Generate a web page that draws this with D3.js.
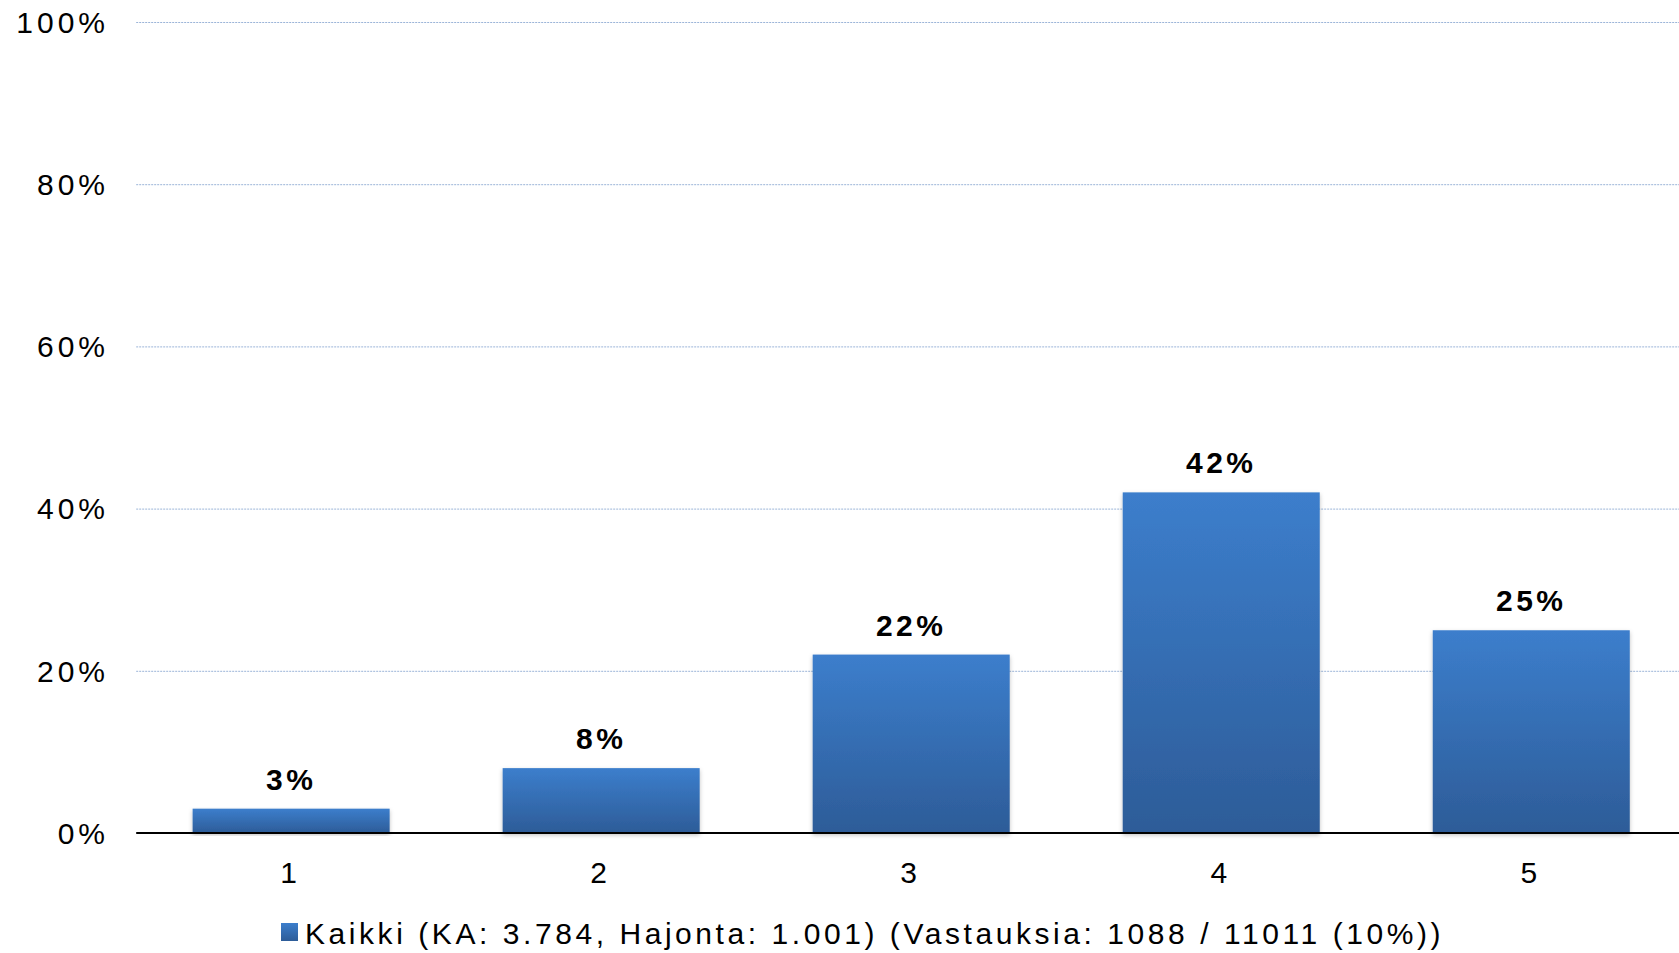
<!DOCTYPE html>
<html>
<head>
<meta charset="utf-8">
<script src="https://cdn.jsdelivr.net/npm/d3@7"></script>
<style>
  body { margin: 0; background: #fff; overflow: hidden; }
  text { font-family: "Liberation Sans", Arial, sans-serif; }
</style>
</head>
<body>
<script>
const categories = ['1', '2', '3', '4', '5']
const values = [3, 8, 22, 42, 25]
const yTicks = [0, 20, 40, 60, 80, 100]
const legendLabel = 'Kaikki (KA: 3.784, Hajonta: 1.001) (Vastauksia: 1088 / 11011 (10%))'

const width = 1679, height = 953
const plotLeft = 136.2, plotRight = 1686.2, plotTop = 22, plotBottom = 833

const svg = d3.select('body').append('svg')
  .attr('width', width)
  .attr('height', height)

// bar gradient + soft shadow
const defs = svg.append('defs')
const grad = defs.append('linearGradient')
  .attr('id', 'barGrad')
  .attr('x1', 0).attr('y1', 0).attr('x2', 0).attr('y2', 1)
grad.append('stop').attr('offset', '0%').attr('stop-color', '#3c7ecc')
grad.append('stop').attr('offset', '100%').attr('stop-color', '#2d5c98')

const shadow = defs.append('filter').attr('id', 'shadow')
  .attr('x', '-5%').attr('y', '-5%').attr('width', '110%').attr('height', '115%')
shadow.append('feDropShadow')
  .attr('dx', 0).attr('dy', 2).attr('stdDeviation', 2)
  .attr('flood-color', '#000').attr('flood-opacity', 0.25)

const x = d3.scaleBand()
  .domain(categories)
  .range([plotLeft, plotRight])
  .paddingInner(0.3645)
  .paddingOuter(0.182)

const y = d3.scaleLinear()
  .domain([0, 100])
  .range([plotBottom, plotTop])

// gridlines
svg.append('g')
  .selectAll('line')
  .data(yTicks.filter(d => d > 0))
  .join('line')
  .attr('x1', plotLeft)
  .attr('x2', width)
  .attr('y1', d => y(d) + 0.5)
  .attr('y2', d => y(d) + 0.5)
  .attr('stroke', '#9bb4d8')
  .attr('stroke-width', 1)
  .attr('stroke-dasharray', '2,1')

// y labels
svg.append('g')
  .selectAll('text')
  .data(yTicks)
  .join('text')
  .attr('x', 109)
  .attr('y', d => y(d))
  .attr('dy', '0.36em')
  .attr('text-anchor', 'end')
  .attr('font-size', 30)
  .style('letter-spacing', '4px')
  .attr('fill', '#000')
  .text(d => d + '%')

// bars
svg.append('g')
  .selectAll('rect')
  .data(values)
  .join('rect')
  .attr('x', (d, i) => x(categories[i]))
  .attr('y', d => y(d))
  .attr('width', x.bandwidth())
  .attr('height', d => plotBottom - y(d))
  .attr('fill', 'url(#barGrad)')
  .attr('filter', 'url(#shadow)')

// value labels
svg.append('g')
  .selectAll('text')
  .data(values)
  .join('text')
  .attr('x', (d, i) => x(categories[i]) + x.bandwidth() / 2)
  .attr('y', d => y(d) - 19)
  .attr('text-anchor', 'middle')
  .attr('font-size', 30)
  .attr('font-weight', 'bold')
  .style('letter-spacing', '3.5px')
  .attr('fill', '#000')
  .text(d => d + '%')

// x axis line
svg.append('line')
  .attr('x1', plotLeft)
  .attr('x2', width)
  .attr('y1', plotBottom)
  .attr('y2', plotBottom)
  .attr('stroke', '#000')
  .attr('stroke-width', 2)

// category labels
svg.append('g')
  .selectAll('text')
  .data(categories)
  .join('text')
  .attr('x', d => x(d) + x.bandwidth() / 2 - 2.5)
  .attr('y', 872)
  .attr('dy', '0.36em')
  .attr('text-anchor', 'middle')
  .attr('font-size', 30)
  .attr('fill', '#000')
  .text(d => d)

// legend
const legend = svg.append('g').attr('transform', 'translate(281,923)')
legend.append('rect')
  .attr('width', 17)
  .attr('height', 18)
  .attr('fill', 'url(#barGrad)')
legend.append('text')
  .attr('x', 24)
  .attr('y', 10)
  .attr('dy', '0.36em')
  .attr('font-size', 30)
  .style('letter-spacing', '3.56px')
  .attr('fill', '#000')
  .text(legendLabel)
</script>
</body>
</html>
